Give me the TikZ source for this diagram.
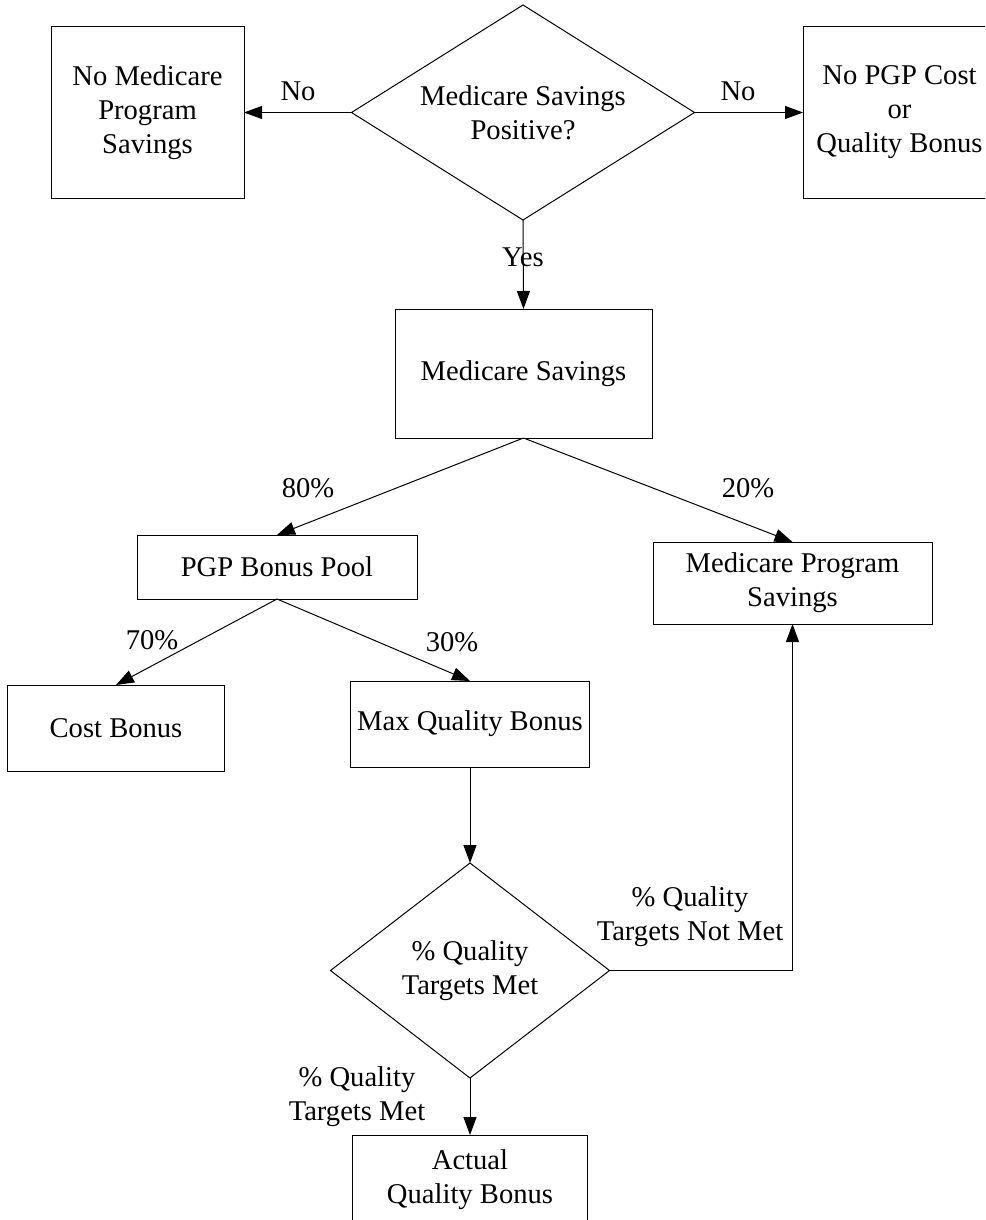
\documentclass[tikz,border=0pt]{standalone}
\usepackage{fontspec}
\setmainfont{Liberation Serif}
\usepackage{tikz}
\usetikzlibrary{shapes.geometric, arrows.meta, positioning, calc}

\begin{document}
\begin{tikzpicture}[x=0.5pt, y=-0.5pt,
    font=\fontsize{14.3pt}{17pt}\selectfont,
    box/.style={draw, rectangle, line width=0.5pt, inner sep=0pt, outer sep=0pt, align=center},
    decision/.style={draw, diamond, aspect=1.6, line width=0.5pt, inner sep=0pt, outer sep=0pt, align=center},
    lbl/.style={inner sep=0pt, align=center},
    flow/.style={-{Triangle[length=9pt,width=6.5pt]}, line width=0.5pt}]
\clip (0,0) rectangle (985,1220);
% top decision
\node[decision, minimum width=171.5pt, minimum height=107.5pt] (positive) at (523,112.5) {Medicare Savings\\Positive?};
\node[box, minimum width=96.5pt, minimum height=85.5pt] (nosave) at (147.5,112.5) {No Medicare\\Program\\Savings};
\node[box, minimum width=96.5pt, minimum height=85.5pt] (nobonus) at (899.5,112.5) {No PGP Cost\\or\\Quality Bonus};
\node[box, minimum width=128.5pt, minimum height=64.5pt] (savings) at (523.5,373.5) {Medicare Savings};
% split of savings
\node[box, minimum width=140pt, minimum height=32pt] (pool) at (277,567) {PGP Bonus Pool};
\node[box, minimum width=139.5pt, minimum height=41pt] (program) at (792.5,583) {Medicare Program\\Savings};
\node[box, minimum width=108.5pt, minimum height=43pt] (cost) at (116,728) {Cost Bonus};
\node[box, minimum width=119.5pt, minimum height=43pt] (maxq) at (470,724) {Max Quality Bonus};
% quality check
\node[decision, minimum width=139.5pt, minimum height=107.5pt] (targets) at (470,970.5) {\% Quality\\Targets Met};
\node[box, minimum width=117.5pt, minimum height=45pt] (actual) at (470,1180) {Actual\\Quality Bonus};
% labels
\node[lbl] (nol) at (298,91) {No};
\node[lbl] (nor) at (738,91) {No};
\node[lbl] (yes) at (523,257) {Yes};
\node[lbl] (p80) at (308,488) {80\%};
\node[lbl] (p20) at (748,488) {20\%};
\node[lbl] (p70) at (152,640) {70\%};
\node[lbl] (p30) at (452,642) {30\%};
\node[lbl] (notmet) at (690,917) {\% Quality\\Targets Not Met};
\node[lbl] (met) at (357,1097) {\% Quality\\Targets Met};
% connectors
\draw[flow] (positive.west) -- (nosave.east);
\draw[flow] (positive.east) -- (nobonus.west);
\draw[flow] (positive.south) -- (savings.north);
\draw[flow] (savings.south) -- (pool.north);
\draw[flow] (savings.south) -- (program.north);
\draw[flow] (pool.south) -- (cost.north);
\draw[flow] (pool.south) -- (maxq.north);
\draw[flow] (maxq.south) -- (targets.north);
\draw[flow] (targets.east) -| (program.south);
\draw[flow] (targets.south) -- (actual.north);
\end{tikzpicture}
\end{document}
